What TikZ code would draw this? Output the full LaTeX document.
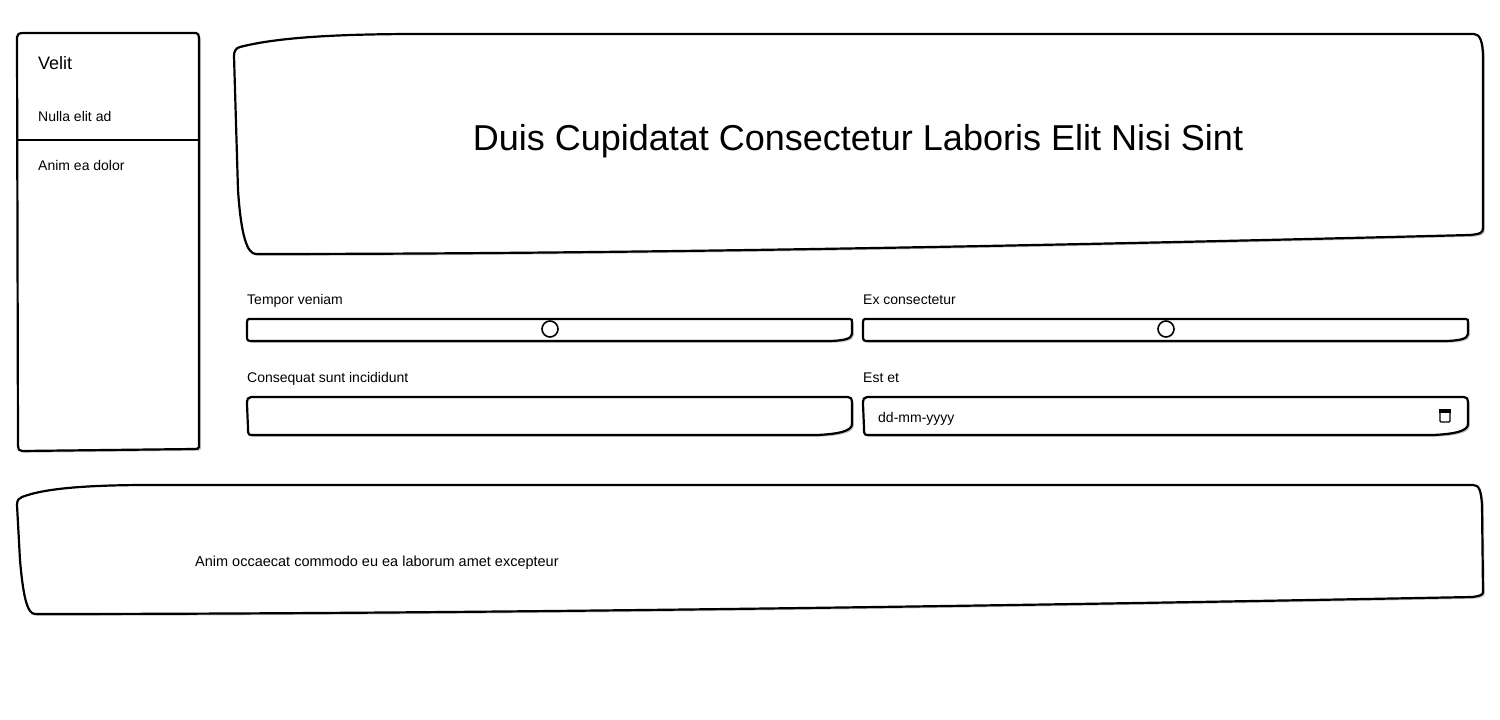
\documentclass[tikz,border=0pt]{standalone}
\usepackage{fontspec}
\setmainfont{Liberation Sans}
\usetikzlibrary{positioning,shadows}

\begin{document}
\begin{tikzpicture}[x=1pt, y=-1pt, every node/.style={inner sep=0pt, font=\fontsize{14}{16}\selectfont}, sketch/.style={draw, line width=2.2pt, fill=white, rounded corners=0pt, drop shadow={shadow xshift=1.8pt, shadow yshift=-1.8pt, opacity=0.45}}, caption/.style={anchor=base west}, knob/.style={circle, draw, line width=1.6pt, fill=white, minimum size=16pt}]
    \fill[white] (0,0) rectangle (1500,720);
    \useasboundingbox (0,0) rectangle (1500,720);

    % sidebar
    \draw[sketch] (17,37) .. controls (17,34) and (19,33) .. (24,33) -- (196,33) .. controls (198,33) and (199,35) .. (199,38) -- (199,447) .. controls (199,449) and (197,449) .. (194,449) -- (22,451) .. controls (19,451) and (18,449) .. (18,446) -- cycle;
    \coordinate (divl) at (17,140);
    \coordinate (divr) at (199,140);
    \draw[line width=2.2pt] (divl) -- (divr);
    \node[caption, font=\fontsize{18}{20}\selectfont] (velit) at (38,69) {Velit};
    \node[caption] (nulla) at (38,121) {Nulla elit ad};
    \node[caption] (animea) at (38,170) {Anim ea dolor};

    % header
    \draw[sketch] (240,47) .. controls (275,38) and (330,34) .. (420,34) -- (1474,34) .. controls (1480,34) and (1483,42) .. (1483,58) -- (1483,228) .. controls (1483,233) and (1480,234) .. (1470,235) .. controls (1000,247) and (600,254) .. (256,254) .. controls (247,254) and (241,235) .. (238,190) -- (234,56) .. controls (234,51) and (236,48) .. (240,47) -- cycle;
    \node[font=\fontsize{36}{40}\selectfont] (title) at (858,141) {Duis Cupidatat Consectetur Laboris Elit Nisi Sint};

    % sliders
    \foreach \x/\lbl/\name in {247/Tempor veniam/tempor, 863/Ex consectetur/ex} {
        \node[caption] (\name) at (\x,304) {\lbl};
        \draw[sketch, shift={(\x,0)}] (2,319) -- (603,319) .. controls (605,319) and (605,320) .. (605,323) -- (605,334) .. controls (605,339) and (595,341) .. (580,341) -- (3,341) .. controls (1,341) and (0,340) .. (0,338) -- (0,322) .. controls (0,320) and (1,319) .. (2,319) -- cycle;
        \node[knob] (knob\name) at (\x+303,329) {};
    }

    % inputs
    \foreach \x/\lbl/\name in {247/Consequat sunt incididunt/consequat, 863/Est et/est} {
        \node[caption] (\name) at (\x,382) {\lbl};
        \draw[sketch, shift={(\x,0)}] (4,397) -- (601,397) .. controls (604,397) and (605,399) .. (605,402) -- (605,424) .. controls (605,431) and (592,434) .. (570,435) -- (4,435) .. controls (1,435) and (1,432) .. (1,428) -- (0,404) .. controls (0,399) and (1,397) .. (4,397) -- cycle;
    }
    \node[caption] (date) at (878,422) {dd-mm-yyyy};
    \node[draw, line width=1.3pt, minimum width=10pt, minimum height=12pt, rounded corners=1pt] (cal) at (1445,416) {};
    \fill (cal.north west) rectangle ([yshift=-3.5pt]cal.north east);

    % footer
    \draw[sketch] (22,497) .. controls (45,488) and (90,485) .. (150,485) -- (1473,485) .. controls (1479,485) and (1481,490) .. (1482,505) -- (1483,592) .. controls (1483,595) and (1480,596) .. (1472,597) .. controls (900,608) and (400,614) .. (35,614) .. controls (27,614) and (23,595) .. (20,560) -- (17,505) .. controls (17,500) and (19,498) .. (22,497) -- cycle;
    \node[caption, font=\fontsize{14.5}{16}\selectfont] (occaecat) at (195,566) {Anim occaecat commodo eu ea laborum amet excepteur};
\end{tikzpicture}
\end{document}
